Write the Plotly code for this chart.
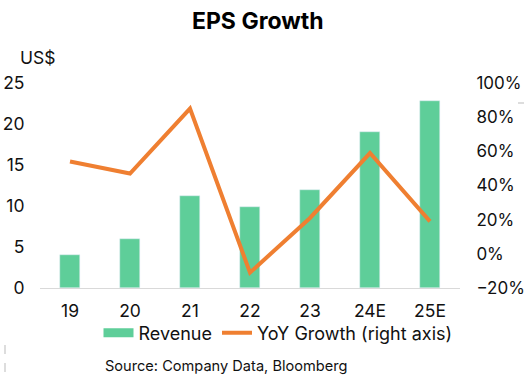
import plotly.graph_objects as go

categories = ["19", "20", "21", "22", "23", "24E", "25E"]
revenue = [4.0, 6.0, 11.2, 9.9, 12.0, 19.0, 22.8]
yoy_growth = [54, 47, 85, -11, 21, 59, 19]

GREEN = "#5ECE99"
ORANGE = "#EF7F31"
FONT = "Inter"

fig = go.Figure()
fig.add_trace(go.Bar(x=categories, y=revenue, name="Revenue", marker_color=GREEN,
                     width=0.32, yaxis="y", showlegend=False))
# legend-only entry so the Revenue swatch is a wide flat block as in the reference
fig.add_trace(go.Scatter(x=[None], y=[None], name="Revenue", mode="lines",
                         line=dict(color=GREEN, width=9), yaxis="y", showlegend=True))
fig.add_trace(go.Scatter(x=categories, y=yoy_growth, name="YoY Growth (right axis)",
                         mode="lines", line=dict(color=ORANGE, width=4), yaxis="y2"))

W, H = 527, 378
L, R, T, B = 40, 460, 83, 288

def px(x):
    return (x - L) / (R - L)

def py(y):
    return (B - y) / (B - T)

fig.update_layout(
    width=W, height=H,
    margin=dict(l=L, r=W - R, t=T, b=H - B, pad=0, autoexpand=False),
    paper_bgcolor="white", plot_bgcolor="white",
    font=dict(family=FONT, size=17, color="#111111"),
    showlegend=True,
    legend=dict(orientation="h", x=px(278), y=py(333), xanchor="center", yanchor="middle",
                font=dict(size=18), tracegroupgap=0, bgcolor="rgba(0,0,0,0)"),
    xaxis=dict(showgrid=False, showline=True, linecolor="#D9D9D9", linewidth=1,
               ticks="outside", ticklen=7, tickcolor="rgba(0,0,0,0)",
               tickfont=dict(size=17.5), range=[-0.5, 6.5]),
    yaxis=dict(range=[0, 25], dtick=5, showgrid=False, zeroline=False, showline=False,
               ticks="outside", ticklen=11, tickcolor="rgba(0,0,0,0)", tickfont=dict(size=17.5)),
    yaxis2=dict(range=[-20, 100], dtick=20, overlaying="y", side="right", showgrid=False,
                zeroline=False, showline=False, ticksuffix="%", ticks="outside", ticklen=12,
                tickcolor="rgba(0,0,0,0)", tickfont=dict(size=17)),
    bargap=0,
    annotations=[
        dict(text="<b>EPS Growth</b>", x=px(258), y=py(21), xref="paper", yref="paper",
             showarrow=False, xanchor="center", yanchor="middle", font=dict(size=23, color="#000000")),
        dict(text="US$", x=px(18), y=py(57), xref="paper", yref="paper",
             showarrow=False, xanchor="left", yanchor="middle", font=dict(size=17.5)),
        dict(text="Source: Company Data, Bloomberg", x=px(103), y=py(366), xref="paper", yref="paper",
             showarrow=False, xanchor="left", yanchor="middle", font=dict(size=14.6)),
    ],
    shapes=[
        dict(type="line", xref="paper", yref="paper", x0=px(5), x1=px(5), y0=py(345), y1=py(378),
             line=dict(color="#BBBBBB", width=1, dash="dash")),
        dict(type="line", xref="paper", yref="paper", x0=px(518), x1=px(524), y0=py(103), y1=py(103),
             line=dict(color="#BBBBBB", width=1)),
    ],
)

fig.write_html("out.html", config={"displayModeBar": False},
               post_script="document.body.style.margin='0';document.body.style.overflow='hidden';")
